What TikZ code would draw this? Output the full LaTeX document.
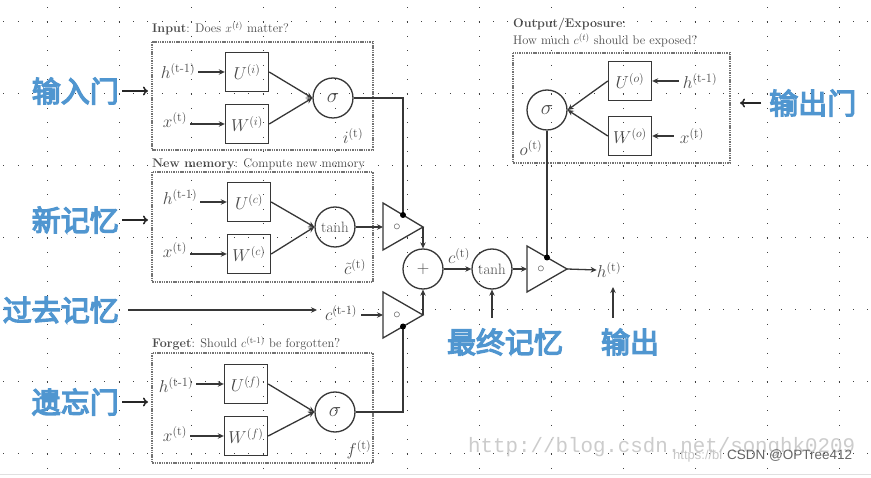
\documentclass[tikz,border=0pt]{standalone}
\usepackage{amsmath}
\usepackage{fontspec}
\newfontfamily\cjk{Noto Sans CJK SC}[FakeBold=4.5]
\newfontfamily\wmono{Liberation Mono}
\newfontfamily\wsans{Liberation Sans}
\usetikzlibrary{arrows.meta}
\definecolor{cnblue}{RGB}{80,150,208}
\definecolor{ink}{RGB}{55,55,55}
\definecolor{txt}{RGB}{75,75,75}
\tikzset{
  griddot/.style={black!75,line width=1pt,dash pattern=on 1pt off 13.4pt},
  wbox/.style={draw=ink,line width=1.4pt,minimum width=43pt,minimum height=39pt,inner sep=0pt,text=txt,font=\fontsize{18}{18}\selectfont},
  circ/.style={circle,draw=ink,line width=1.3pt,minimum size=40pt,inner sep=0pt,text=txt},
  dbox/.style={draw=black!55,line width=1.4pt,dash pattern=on 1.4pt off 0.9pt},
  arr/.style={draw=ink,line width=1.3pt,-{Stealth[length=6pt,width=5.5pt]}},
  plain/.style={draw=ink,line width=1.3pt},
  lab/.style={text=txt,inner sep=0pt,font=\fontsize{18}{18}\selectfont},
  ttl/.style={text=txt,inner sep=0pt,anchor=base west,font=\fontsize{12.5}{12.5}\selectfont},
  cn/.style={text=cnblue,inner sep=0pt,font=\cjk\fontsize{29}{29}\selectfont},
  cnarr/.style={draw=black!85,line width=1.5pt,-{To[length=5pt,width=9pt]}},
  gdot/.style={circle,fill=black,inner sep=0pt,minimum size=6pt},
  gate/.style={draw=ink,line width=1.3pt,fill=white},
  sig/.style={circ,font=\fontsize{22}{22}\selectfont}
}
\begin{document}
\begin{tikzpicture}[x=1pt,y=-1pt]
\useasboundingbox (0,0) rectangle (871,478);
\fill[white] (0,0) rectangle (871,478);
% dotted grid
\foreach \x in {47,119,...,839} \draw[griddot] (\x,-7.2) -- (\x,478);
\foreach \y in {22,94,...,454} \draw[griddot] (-11,\y) -- (871,\y);
\draw[black!12,line width=1pt] (0,475) -- (871,475);

% ---------- Input block ----------
\node[ttl] (tin) at (152,33) {\textbf{Input}: Does $x^{(t)}$ matter?};
\draw[dbox] (152,42) rectangle (373,150);
\node[lab] (hi) at (178,71) {$h^{(\text{t-1})}$};
\node[lab] (xi) at (175,120) {$x^{(\text{t})}$};
\node[wbox] (Ui) at (247,72) {$U^{(i)}$};
\node[wbox] (Wi) at (247,124) {$W^{(i)}$};
\node[sig] (si) at (333,98) {$\sigma$};
\node[lab] (il) at (353,136) {$i^{(\text{t})}$};
\draw[arr] ([xshift=3pt]hi.east |- Ui.west) -- (Ui.west);
\draw[arr] ([xshift=3pt]xi.east |- Wi.west) -- (Wi.west);
\draw[arr] (Ui.east) -- (si.west);
\draw[arr] (Wi.east) -- (si.west);

% ---------- New memory block ----------
\node[ttl] (tnm) at (152,168) {\textbf{New memory}: Compute new memory};
\draw[dbox] (152,172) rectangle (373,282);
\node[lab] (hc) at (180,197) {$h^{(\text{t-1})}$};
\node[lab] (xc) at (175,250) {$x^{(\text{t})}$};
\node[wbox] (Uc) at (249,202) {$U^{(c)}$};
\node[wbox] (Wc) at (249,254) {$W^{(c)}$};
\node[circ,font=\fontsize{15}{15}\selectfont] (tc) at (335,227) {tanh};
\node[lab] (cl) at (355,267) {$\tilde{c}^{(\text{t})}$};
\draw[arr] ([xshift=3pt]hc.east |- Uc.west) -- (Uc.west);
\draw[arr] ([xshift=3pt]xc.east |- Wc.west) -- (Wc.west);
\draw[arr] (Uc.east) -- (tc.west);
\draw[arr] (Wc.east) -- (tc.west);

% ---------- Forget block ----------
\node[ttl] (tfg) at (152,348) {\textbf{Forget}: Should $c^{(\text{t-1})}$ be forgotten?};
\draw[dbox] (152,353) rectangle (373,463);
\node[lab] (hf) at (176,385) {$h^{(\text{t-1})}$};
\node[lab] (xf) at (175,434) {$x^{(\text{t})}$};
\node[wbox] (Uf) at (246,384) {$U^{(f)}$};
\node[wbox] (Wf) at (246,436) {$W^{(f)}$};
\node[sig] (sf) at (335,412) {$\sigma$};
\node[lab] (fl) at (359,450) {$f^{(\text{t})}$};
\draw[arr] ([xshift=3pt]hf.east |- Uf.west) -- (Uf.west);
\draw[arr] ([xshift=3pt]xf.east |- Wf.west) -- (Wf.west);
\draw[arr] (Uf.east) -- (sf.west);
\draw[arr] (Wf.east) -- (sf.west);

% ---------- Output block ----------
\node[ttl] (tou) at (513,28) {\textbf{Output/Exposure}:};
\node[ttl] (tou2) at (513,45) {How much $c^{(t)}$ should be exposed?};
\draw[dbox] (513,53) rectangle (730,163);
\node[sig] (so) at (547,110) {$\sigma$};
\node[wbox] (Uo) at (630,81) {$U^{(o)}$};
\node[wbox] (Wo) at (630,136) {$W^{(o)}$};
\node[lab] (ho) at (700,81) {$h^{(\text{t-1})}$};
\node[lab] (xo) at (692,136) {$x^{(\text{t})}$};
\node[lab] (ol) at (531,148) {$o^{(\text{t})}$};
\draw[arr] ([xshift=-4pt]ho.west |- Uo.east) -- (Uo.east);
\draw[arr] ([xshift=-6pt]xo.west |- Wo.east) -- (Wo.east);
\draw[arr] (Uo.west) -- (so.east);
\draw[arr] (Wo.west) -- (so.east);

% ---------- gates ----------
\coordinate (g1a) at (383,203); \coordinate (g1b) at (383,250); \coordinate (g1e) at (423,227);
\coordinate (g1w) at (383,227); \coordinate (g1d) at (403,215);
\coordinate (g2a) at (383,292); \coordinate (g2b) at (383,338); \coordinate (g2e) at (423,315);
\coordinate (g2w) at (383,315); \coordinate (g2d) at (403,326.5);
\coordinate (g3a) at (527,246); \coordinate (g3b) at (527,292); \coordinate (g3e) at (567,269);
\coordinate (g3w) at (527,269); \coordinate (g3d) at (547,257.5);

\draw[plain] (si.east) -| (g1d);
\draw[plain] (sf.east) -| (g2d);
\draw[plain] (so.south) -- (g3d);

\draw[gate] (g1a) -- (g1b) -- (g1e) -- cycle;
\draw[gate] (g2a) -- (g2b) -- (g2e) -- cycle;
\draw[gate] (g3a) -- (g3b) -- (g3e) -- cycle;
\node[text=txt,font=\fontsize{14}{14}\selectfont,inner sep=0pt] (o1) at (397,227) {$\circ$};
\node[text=txt,font=\fontsize{14}{14}\selectfont,inner sep=0pt] (o2) at (397,315) {$\circ$};
\node[text=txt,font=\fontsize{14}{14}\selectfont,inner sep=0pt] (o3) at (541,269) {$\circ$};
\node[gdot] (d1) at (g1d) {};
\node[gdot] (d2) at (g2d) {};
\node[gdot] (d3) at (g3d) {};

\draw[arr] (tc.east) -- (g1w);

\node[circ,font=\fontsize{17}{17}\selectfont] (plus) at (423,269) {$+$};
\draw[arr] (g1e) -- (plus.north);
\draw[arr] (g2e) -- (plus.south);

\node[lab] (cprev) at (341,313) {$c^{(\text{t-1})}$};
\coordinate (pastL) at (128,310);
\coordinate (pastR) at (317,310);
\draw[arr] (pastL) -- (pastR);
\draw[arr] ([xshift=4pt]cprev.east |- g2w) -- (g2w);

\node[circ,font=\fontsize{15}{15}\selectfont] (tf) at (492,269) {tanh};
\node[lab] (ct) at (459,256) {$c^{(\text{t})}$};
\draw[arr] (plus.east) -- (tf.west);
\draw[arr] (tf.east) -- (g3w);

\node[lab] (ht) at (609,270) {$h^{(\text{t})}$};
\draw[arr] (g3e) -- (ht.west);

\coordinate (finB) at (492,318);
\draw[arr] (finB) -- (tf.south);
\coordinate (outB) at (613,318);
\coordinate (outT) at (613,287);
\draw[arr] (outB) -- (outT);

% ---------- Chinese labels ----------
\node[cn,anchor=east] (lin) at (119,91) {输入门};
\node[cn,anchor=east] (lnm) at (119,220) {新记忆};
\node[cn,anchor=east] (lpm) at (119,310) {过去记忆};
\node[cn,anchor=east] (lfg) at (119,402) {遗忘门};
\node[cn,anchor=west] (lout) at (769,103) {输出门};
\node[cn] (lfin) at (505,342) {最终记忆};
\node[cn] (lh) at (630,342) {输出};
\draw[cnarr] ([xshift=3pt]lin.east) -- (148,91);
\draw[cnarr] ([xshift=3pt]lnm.east) -- (148,220);
\draw[cnarr] ([xshift=3pt]lfg.east) -- (148,402);
\draw[cnarr] ([xshift=-8pt]lout.west) -- (740,103);

% ---------- watermarks ----------
\node[anchor=base west,inner sep=0pt,text=black!20,font=\wmono\fontsize{20.8}{20.8}\selectfont] (wm1) at (468,453) {http://blog.csdn.net/songhk0209};
\node[anchor=base west,inner sep=0pt,text=black!22,font=\wsans\fontsize{13}{13}\selectfont] (wm2) at (673,460) {https://bl};
\node[anchor=base west,inner sep=0pt,text=black!60,font=\wsans\fontsize{13.5}{13.5}\selectfont] (wm3) at (727,460) {CSDN @OPTree412};
\end{tikzpicture}
\end{document}
